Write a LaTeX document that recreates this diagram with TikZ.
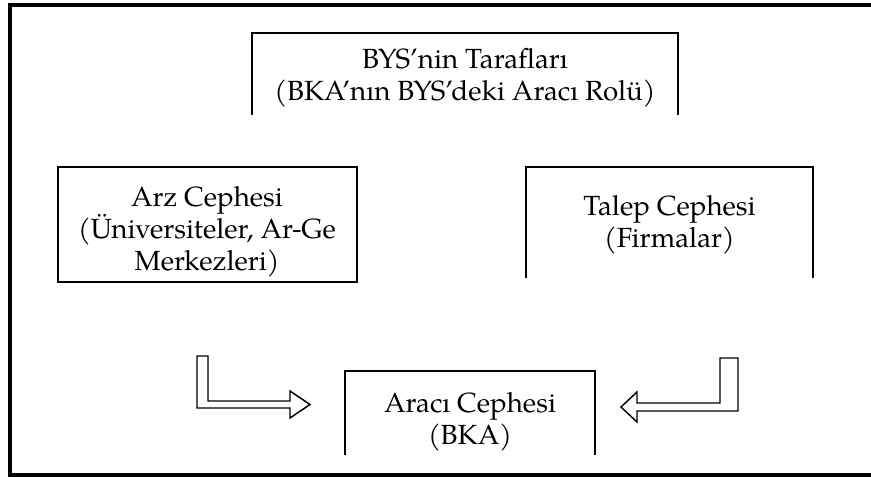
\documentclass[tikz,border=0pt]{standalone}
\usepackage{fontspec}
\setmainfont{TeX Gyre Pagella}
\begin{document}
\begin{tikzpicture}[x=0.75pt,y=-0.75pt,
  boxshape/.style={draw=none,rectangle,inner sep=0pt},
  txt/.style={align=center,inner sep=0pt,font=\fontsize{20.8pt}{24pt}\selectfont},
  frameline/.style={line width=1.6pt,line join=miter},
  blockarrow/.style={draw,line width=1.1pt,fill=white,line join=miter}]
\useasboundingbox (0,0) rectangle (871,477);
% outer frame (no right edge)
\draw[line width=3pt] (871,5) -- (10,5) -- (10,474.5) -- (871,474.5);
% boxes
\node[boxshape,minimum width=426*0.75pt,minimum height=81*0.75pt] (top) at (465,74) {};
\node[boxshape,minimum width=299*0.75pt,minimum height=115*0.75pt] (arz) at (207.5,224.5) {};
\node[boxshape,minimum width=287*0.75pt,minimum height=111*0.75pt] (talep) at (669.5,222.5) {};
\node[boxshape,minimum width=250*0.75pt,minimum height=84*0.75pt] (araci) at (470,413) {};
\draw[frameline] (top.south west) -- (top.north west) -- (top.north east) -- (top.south east);
\draw[frameline] (arz.south west) rectangle (arz.north east);
\draw[frameline] (talep.south west) -- (talep.north west) -- (talep.north east) -- (talep.south east);
\draw[frameline] (araci.south west) -- (araci.north west) -- (araci.north east) -- (araci.south east);
% texts
\node[txt] (toptext) at (465,78) {BYS’nin Tarafları\\(BKA’nın BYS’deki Aracı Rolü)};
\node[txt] (arztext) at (207,232) {Arz Cephesi\\(Üniversiteler, Ar-Ge\\Merkezleri)};
\node[txt] (taleptext) at (669.5,225) {Talep Cephesi\\(Firmalar)};
\node[txt] (aracitext) at (470,422) {Aracı Cephesi\\(BKA)};
% block arrows
\draw[blockarrow] (197,356) -- (208,356) -- (208,401) -- (290,401) -- (290,391) -- (310,404.5) -- (290,418) -- (290,408) -- (197,408) -- cycle;
\draw[blockarrow] (738,358) -- (720,358) -- (720,403) -- (637,403) -- (637,392) -- (621,407) -- (637,422) -- (637,411) -- (738,411) -- cycle;
\end{tikzpicture}
\end{document}
